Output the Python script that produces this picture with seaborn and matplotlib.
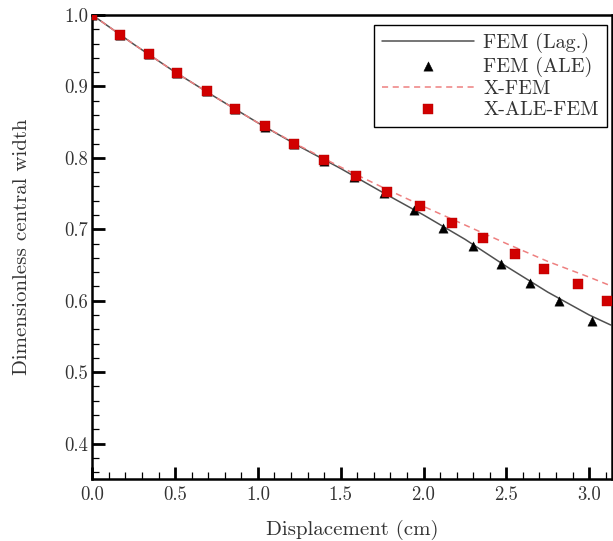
import numpy as np
import pandas as pd
import matplotlib
matplotlib.use("Agg")
import matplotlib.pyplot as plt
from matplotlib.ticker import MultipleLocator
import seaborn as sns

# ---- data ----
lag_x = [0.0, 0.25, 0.5, 0.75, 1.0, 1.25, 1.5, 1.75, 2.0, 2.25, 2.5, 2.75, 3.0, 3.13]
lag_y = [1.0, 0.959, 0.920, 0.884, 0.849, 0.816, 0.785, 0.752, 0.720, 0.686, 0.648, 0.612, 0.580, 0.566]

ale_x = [0.0, 0.17, 0.34, 0.51, 0.69, 0.86, 1.04, 1.22, 1.40, 1.58, 1.76, 1.94, 2.12, 2.30, 2.47, 2.64, 2.82, 3.02]
ale_y = [1.0, 0.972, 0.945, 0.919, 0.893, 0.868, 0.843, 0.819, 0.796, 0.773, 0.751, 0.727, 0.702, 0.676, 0.651, 0.625, 0.599, 0.571]

xfem_x = [0.0, 0.25, 0.5, 0.75, 1.0, 1.25, 1.5, 1.75, 2.0, 2.25, 2.5, 2.75, 3.0, 3.14]
xfem_y = [1.0, 0.959, 0.920, 0.884, 0.849, 0.817, 0.787, 0.759, 0.732, 0.706, 0.680, 0.655, 0.633, 0.620]

xale_x = [0.0, 0.17, 0.34, 0.51, 0.69, 0.86, 1.04, 1.22, 1.40, 1.59, 1.78, 1.98, 2.17, 2.36, 2.55, 2.73, 2.93, 3.11]
xale_y = [1.0, 0.972, 0.945, 0.919, 0.893, 0.869, 0.844, 0.820, 0.797, 0.775, 0.752, 0.732, 0.709, 0.688, 0.666, 0.645, 0.623, 0.600]

labels = ["FEM (Lag.)", "FEM (ALE)", "X-FEM", "X-ALE-FEM"]
x_ticks = [0.0, 0.5, 1.0, 1.5, 2.0, 2.5, 3.0]
y_ticks = [0.4, 0.5, 0.6, 0.7, 0.8, 0.9, 1.0]

sns.set_style("ticks")
plt.rcParams.update({
    "font.family": ["cmr10", "DejaVu Serif"],
    "axes.formatter.use_mathtext": True,
    "mathtext.fontset": "cm",
})

fig = plt.figure(figsize=(6.13, 5.41), dpi=100)
ax = fig.add_axes([0.1506, 0.1141, 0.9984 - 0.1506, 0.9723 - 0.1141])

lag = pd.DataFrame({"x": lag_x, "y": lag_y})
ale = pd.DataFrame({"x": ale_x, "y": ale_y})
xfem = pd.DataFrame({"x": xfem_x, "y": xfem_y})
xale = pd.DataFrame({"x": xale_x, "y": xale_y})

sns.lineplot(data=lag, x="x", y="y", ax=ax, color="#505050", lw=1.1, label=labels[0], sort=False)
sns.lineplot(data=xfem, x="x", y="y", ax=ax, color="#ee8080", lw=1.1, label=labels[2], sort=False)
ax.lines[-1].set_dashes([4, 3])
sns.scatterplot(data=ale, x="x", y="y", ax=ax, marker="^", color="black", s=45,
                edgecolor="black", linewidth=0.3, label=labels[1], zorder=3)
sns.scatterplot(data=xale, x="x", y="y", ax=ax, marker="s", color="#d10000", s=42,
                edgecolor="#b00000", linewidth=0.3, label=labels[3], zorder=4)

ax.set_xlim(0, 3.138)
ax.set_ylim(0.35, 1.0)
ax.set_xticks(x_ticks)
ax.set_yticks(y_ticks)
ax.set_xticklabels([f"{v:.1f}" for v in x_ticks])
ax.set_yticklabels([f"{v:.1f}" for v in y_ticks])
ax.xaxis.set_minor_locator(MultipleLocator(0.1))
ax.yaxis.set_minor_locator(MultipleLocator(0.02))
ax.tick_params(which="major", direction="in", length=9, width=2, color="black",
               labelsize=13.5, labelcolor="#333333")
ax.tick_params(which="minor", direction="in", length=5, width=0.9, color="black")
ax.tick_params(axis="x", which="major", pad=5)
ax.tick_params(axis="y", which="major", pad=3)
for s in ax.spines.values():
    s.set_linewidth(1.8)
    s.set_color("black")

ax.set_xlabel("Displacement (cm)", fontsize=15, color="#333333", labelpad=11)
ax.set_ylabel("Dimensionless central width", fontsize=15, color="#333333", labelpad=24)

h, l = ax.get_legend_handles_labels()
hd = dict(zip(l, h))
leg = ax.legend([hd[k] for k in labels], labels, loc="upper right",
                bbox_to_anchor=(0.990, 0.978), borderaxespad=0, fontsize=14.5,
                frameon=True, fancybox=False, edgecolor="black", framealpha=1,
                handlelength=4.6, handletextpad=0.45, labelspacing=0.15, borderpad=0.4)
leg.get_frame().set_linewidth(1.0)
for t in leg.get_texts():
    t.set_color("#333333")

fig.savefig("out.png", dpi=100)
